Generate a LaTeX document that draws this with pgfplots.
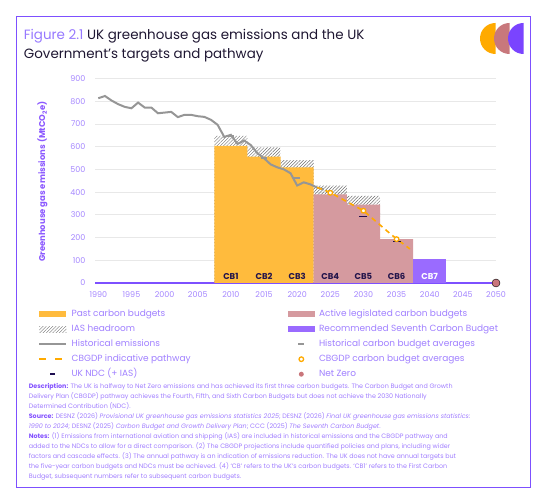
\documentclass[border=0pt]{standalone}
\usepackage{pgfplots}
\pgfplotsset{compat=1.18}
\usepackage{fontspec}
\setmainfont{Poppins}
\usetikzlibrary{patterns.meta}

\definecolor{framepurple}{RGB}{125,80,255}
\definecolor{figpurple}{RGB}{150,120,255}
\definecolor{titledark}{RGB}{30,22,50}
\definecolor{tickpurple}{RGB}{165,135,255}
\definecolor{labelpurple}{RGB}{140,90,255}
\definecolor{legpurple}{RGB}{160,128,255}
\definecolor{descpurple}{RGB}{160,125,255}
\definecolor{descbold}{RGB}{130,80,255}
\definecolor{pastbar}{RGB}{255,187,61}
\definecolor{activebar}{RGB}{213,154,159}
\definecolor{cbseven}{RGB}{154,107,255}
\definecolor{histgray}{RGB}{150,150,150}
\definecolor{pathorange}{RGB}{255,170,0}
\definecolor{ndcnavy}{RGB}{30,14,80}
\definecolor{netzero}{RGB}{201,118,123}
\definecolor{gridgray}{RGB}{232,232,232}
\definecolor{hatchgray}{RGB}{110,110,110}
\definecolor{cblabel}{RGB}{35,20,75}
\definecolor{logoorange}{RGB}{255,170,0}
\definecolor{logopink}{RGB}{200,120,124}
\definecolor{logopurple}{RGB}{122,68,255}

\newcommand\descline[2]{\node[anchor=base west, inner sep=0pt, font=\fontsize{6.4}{8}\selectfont, text=descpurple] at (28.6,#1) {#2};}
\newcommand\hd[1]{\textcolor{descbold}{\bfseries #1}}
\newcommand\legbox[1]{\makebox[212bp][l]{#1}}
% fixed-size invisible frame for every legend sample
\newcommand\legframe{\path[draw=none,fill=none] (0,-3.2bp) rectangle (27bp,3.2bp);}

\begin{document}
\begin{tikzpicture}[x=1bp,y=1bp]
\useasboundingbox (0,0) rectangle (547,493);
\draw[framepurple, line width=1.1bp] (16.4,476.9) rectangle (530.4,5.4);

% logo: three half discs
\fill[logoorange] (495.5,454.5) -- ++(0,15.5) arc[start angle=90,end angle=270,radius=15.5] -- cycle;
\fill[logopink] (509.5,454.5) -- ++(0,15.5) arc[start angle=90,end angle=270,radius=15.5] -- cycle;
\fill[logopurple] (523.5,454.5) -- ++(0,15.5) arc[start angle=90,end angle=270,radius=15.5] -- cycle;

% title
\node[anchor=base west, inner sep=0pt, font=\fontsize{13.5}{16}\selectfont, text=titledark] at (23.7,453.9)
  {\textcolor{figpurple}{Figure 2.1} UK greenhouse gas emissions and the UK};
\node[anchor=base west, inner sep=0pt, font=\fontsize{13.5}{16}\selectfont, text=titledark] at (23.7,434.4)
  {Government’s targets and pathway};

% y axis title
\node[rotate=90, inner sep=0pt, font=\bfseries\fontsize{8.5}{10}\selectfont, text=labelpurple] at (42.5,311.3)
  {Greenhouse gas emissions (MtCO\textsubscript{2}e)};

\begin{axis}[
  at={(95bp,210bp)}, anchor=south west,
  scale only axis, width=401bp, height=204.5bp,
  xmin=1989.5, xmax=2050, ymin=0, ymax=900,
  xtick={1990,1995,...,2050}, ytick={0,100,...,900},
  axis x line*=bottom, axis y line*=left,
  x axis line style={draw=framepurple, line width=1.1bp, -},
  y axis line style={draw=none},
  major tick length=0pt,
  ymajorgrids, grid style={draw=gridgray, line width=0.8bp},
  clip=false,
  ticklabel style={font=\fontsize{8}{9}\selectfont, text=tickpurple},
  xticklabel style={yshift=-5bp},
  yticklabel style={xshift=-6bp},
  /pgf/number format/1000 sep={},
  /pgf/number format/assume math mode=true,
  legend columns=2,
  legend cell align=left,
  legend style={at={(-0.1411,-0.1306)}, anchor=north west, draw=none, fill=none,
    inner sep=0pt, outer sep=0pt, column sep=4.2bp, row sep=6bp,
    font=\fontsize{9}{10}\selectfont, text=legpurple,
    nodes={inner sep=0pt, text height=7bp, text depth=2bp}},
]
% legend entries
\addlegendimage{legend image code/.code={\legframe \fill[pastbar, draw=none] (0,-3.2bp) rectangle (27bp,3.2bp);}}
\addlegendentry{\legbox{Past carbon budgets}}
\addlegendimage{legend image code/.code={\legframe \fill[activebar, draw=none] (0,-3.2bp) rectangle (27bp,3.2bp);}}
\addlegendentry{Active legislated carbon budgets}
\addlegendimage{legend image code/.code={\legframe \path[draw=none, pattern={Lines[angle=45,distance=2.3bp,line width=0.45bp]}, pattern color=hatchgray] (0,-3.2bp) rectangle (27bp,3.2bp);}}
\addlegendentry{\legbox{IAS headroom}}
\addlegendimage{legend image code/.code={\legframe \fill[cbseven, draw=none] (0,-3.2bp) rectangle (27bp,3.2bp);}}
\addlegendentry{Recommended Seventh Carbon Budget}
\addlegendimage{legend image code/.code={\legframe \draw[histgray, fill=none, line width=2bp] (0,0) -- (27bp,0);}}
\addlegendentry{\legbox{Historical emissions}}
\addlegendimage{legend image code/.code={\legframe \draw[histgray, fill=none, line width=2bp] (10.5bp,0) -- (16.5bp,0);}}
\addlegendentry{Historical carbon budget averages}
\addlegendimage{legend image code/.code={\legframe \draw[pathorange, fill=none, line width=1.6bp] (0,0) -- (7bp,0) (15.7bp,0) -- (22.7bp,0);}}
\addlegendentry{\legbox{CBGDP indicative pathway}}
\addlegendimage{legend image code/.code={\legframe \draw[pathorange, line width=1.3bp, fill=white] (13.5bp,0) circle (2.3bp);}}
\addlegendentry{CBGDP carbon budget averages}
\addlegendimage{legend image code/.code={\legframe \draw[ndcnavy, fill=none, line width=1.6bp] (11bp,0) -- (16bp,0);}}
\addlegendentry{\legbox{UK NDC (+ IAS)}}
\addlegendimage{legend image code/.code={\legframe \fill[netzero, draw=none] (13.5bp,0) circle (2.5bp);}}
\addlegendentry{Net Zero}

% IAS headroom on top of each budget
\addplot[ybar interval, draw=none, pattern={Lines[angle=45,distance=2.3bp,line width=0.45bp]}, pattern color=hatchgray, forget plot]
  coordinates {(2007.5,647) (2012.5,597) (2017.5,541) (2022.5,428) (2027.5,383) (2032.5,0)};
% past carbon budgets (annual average, MtCO2e)
\addplot[ybar interval, fill=pastbar, draw=none, forget plot]
  coordinates {(2007.5,603.6) (2012.5,556.4) (2017.5,508.8) (2022.5,0)};
% active legislated carbon budgets
\addplot[ybar interval, fill=activebar, draw=none, forget plot]
  coordinates {(2022.5,390) (2027.5,345) (2032.5,193) (2037.5,0)};
% recommended seventh carbon budget
\addplot[ybar interval, fill=cbseven, draw=none, forget plot]
  coordinates {(2037.5,107) (2042.5,0)};

% historical emissions
\addplot[histgray, line width=2bp, forget plot] coordinates {
  (1990,813) (1991,823) (1992,803) (1993,787) (1994,775) (1995,769)
  (1996,794) (1997,772) (1998,772) (1999,747) (2000,750) (2001,753)
  (2002,730) (2003,740) (2004,740) (2005,734) (2006,731) (2007,718)
  (2008,696) (2009,643) (2010,652) (2011,612) (2012,627) (2013,607)
  (2014,571) (2015,549) (2016,522) (2017,509) (2018,500) (2019,483)
  (2020,429) (2021,443) (2022,434) (2023,420) (2024,412)};
% historical carbon budget averages
\addplot[only marks, mark=-, mark size=3bp, mark options={draw=histgray, line width=2bp}, forget plot]
  coordinates {(2010,648) (2015,552) (2020,463)};

% CBGDP indicative pathway
\addplot[pathorange, line width=1.6bp, dash pattern=on 5bp off 4bp, forget plot] coordinates {
  (2023,420) (2024,410) (2025,398) (2026,382) (2027,366) (2028,350)
  (2029,334) (2030,318) (2031,293) (2032,268) (2033,243) (2034,218)
  (2035,194) (2036,172) (2037,150)};
% UK NDC (+ IAS)
\addplot[only marks, mark=-, mark size=4bp, mark options={draw=ndcnavy, line width=1.6bp}, forget plot]
  coordinates {(2030,293) (2035,182)};
% CBGDP carbon budget averages
\addplot[only marks, mark=*, mark size=2.3bp, mark options={fill=white, draw=pathorange, line width=1.3bp}, forget plot]
  coordinates {(2025,397) (2030,318) (2035,193)};
% Net Zero
\addplot[only marks, mark=*, mark size=4bp, mark options={fill=netzero, draw=none}, forget plot]
  coordinates {(2050,0)};

% budget labels
\foreach \yr/\lab in {2010/CB1,2015/CB2,2020/CB3,2025/CB4,2030/CB5,2035/CB6}{
  \edef\tmp{\noexpand\node[font=\noexpand\bfseries\noexpand\fontsize{8.5}{10}\noexpand\selectfont, text=cblabel] at (axis cs:\yr,28) {\lab};}
  \tmp
}
\node[font=\bfseries\fontsize{8.5}{10}\selectfont, text=white] at (axis cs:2040,28) {CB7};
\end{axis}

% description block
\descline{104.7}{\hd{Description:} The UK is halfway to Net Zero emissions and has achieved its first three carbon budgets. The Carbon Budget and Growth}
\descline{94.7}{Delivery Plan (CBGDP) pathway achieves the Fourth, Fifth, and Sixth Carbon Budgets but does not achieve the 2030 Nationally}
\descline{84.7}{Determined Contribution (NDC).}
\descline{74.7}{\hd{Source:} DESNZ (2026) \textit{Provisional UK greenhouse gas emissions statistics 2025}; DESNZ (2026) \textit{Final UK greenhouse gas emissions statistics:}}
\descline{64.7}{\textit{1990 to 2024}; DESNZ (2025) \textit{Carbon Budget and Growth Delivery Plan}; CCC (2025) \textit{The Seventh Carbon Budget}.}
\descline{54.7}{\hd{Notes:} (1) Emissions from international aviation and shipping (IAS) are included in historical emissions and the CBGDP pathway and}
\descline{44.7}{added to the NDCs to allow for a direct comparison. (2) The CBGDP projections include quantified policies and plans, including wider}
\descline{34.7}{factors and cascade effects. (3) The annual pathway is an indication of emissions reduction. The UK does not have annual targets but}
\descline{24.7}{the five-year carbon budgets and NDCs must be achieved. (4) ‘CB’ refers to the UK’s carbon budgets. ‘CB1’ refers to the First Carbon}
\descline{14.7}{Budget, subsequent numbers refer to subsequent carbon budgets.}
\end{tikzpicture}
\end{document}
